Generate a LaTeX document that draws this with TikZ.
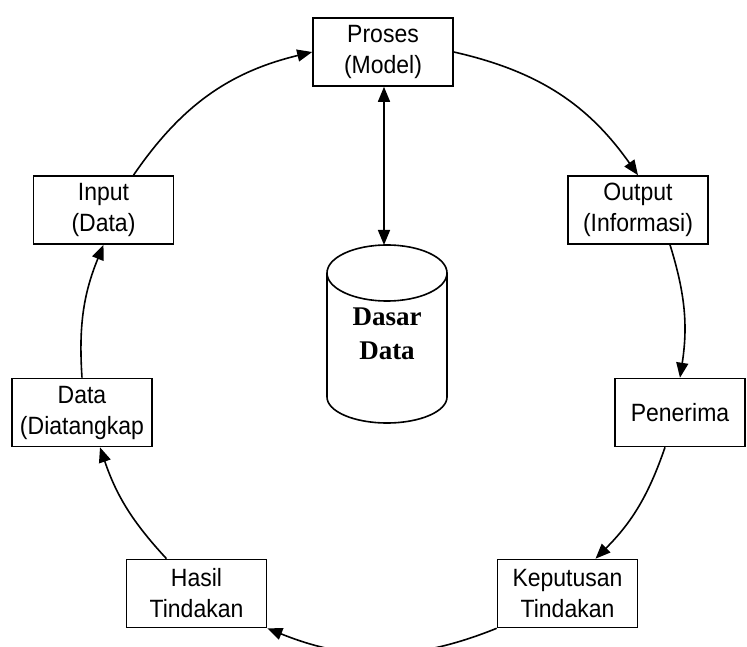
\documentclass[tikz,border=0pt]{standalone}
\usepackage{fontspec}
\setmainfont{Liberation Sans}[FakeStretch=0.92]
\newfontfamily\dbfont{Liberation Serif}
\usetikzlibrary{arrows.meta}
\begin{document}
\begin{tikzpicture}[x=1pt,y=1pt,
  box/.style={draw, line width=1.6pt, rectangle, inner sep=0pt, align=center,
    minimum width=140pt, minimum height=68pt, font=\fontsize{25}{31}\selectfont},
  tip/.style={Triangle[length=15pt,width=12pt]},
  flow/.style={line width=1.6pt, -{Triangle[length=15pt,width=12pt]}},
  every node/.style={text=black}]
\useasboundingbox (0,0) rectangle (747,646);
\node[box] (proses) at (383,594) {Proses\\(Model)};
\node[box] (input) at (103.5,436) {Input\\(Data)};
\node[box] (output) at (638,436) {Output\\(Informasi)};
\node[box] (data) at (82,233.5) {Data\\(Diatangkap};
\node[box, minimum width=130pt] (penerima) at (680,233.5) {Penerima};
\node[box] (hasil) at (196.5,52.5) {Hasil\\Tindakan};
\node[box] (keputusan) at (567.5,52.5) {Keputusan\\Tindakan};
% cylinder
\draw[line width=1.6pt] (387,373) ellipse [x radius=60pt, y radius=28pt];
\draw[line width=1.6pt] (327,373) -- (327,249) arc [start angle=180, end angle=360, x radius=60pt, y radius=26pt] -- (447,373);
\coordinate (dbtop) at (384,401);
\node[align=center, font=\dbfont\bfseries\fontsize{27}{34}\selectfont] (db) at (387,312) {Dasar\\Data};
% connectors
\draw[line width=1.6pt, {Triangle[length=15pt,width=12pt]}-{Triangle[length=15pt,width=12pt]}] ([xshift=1pt]proses.south) -- (dbtop);
\draw[flow] (proses.east) to[bend left=21] (output.north);
\draw[flow] ([xshift=32pt]output.south) to[bend left=13] (penerima.north);
\draw[flow] ([xshift=-15pt]penerima.south) to[bend left=13] ([xshift=28pt]keputusan.north);
\draw[flow] (keputusan.south west) to[bend left=22] (hasil.south east);
\draw[flow] ([xshift=-30pt]hasil.north) to[bend left=12] ([xshift=18pt]data.south);
\draw[flow] (data.north) to[bend left=13] (input.south);
\draw[flow] ([xshift=30pt]input.north) to[bend left=21] (proses.west);
\end{tikzpicture}
\end{document}
